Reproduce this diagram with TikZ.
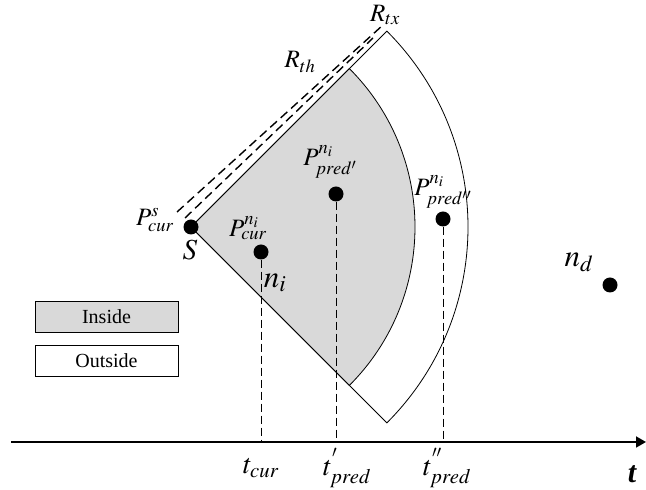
\documentclass[tikz,border=0pt]{standalone}
\usepackage{mathptmx}
\usepackage{fontspec}
\setmainfont{Liberation Serif}
\usetikzlibrary{arrows.meta}

\begin{document}
\begin{tikzpicture}[x=1pt, y=1pt,
    dot/.style={circle, fill=black, inner sep=0pt, minimum size=15pt},
    lbl/.style={font=\fontsize{25}{27}\selectfont, inner sep=0pt},
    tlbl/.style={font=\fontsize{28}{30}\selectfont, inner sep=0pt},
    biglbl/.style={font=\fontsize{31}{33}\selectfont, inner sep=0pt},
    legend/.style={draw, line width=0.9pt, minimum width=143pt, minimum height=31pt,
      inner sep=0pt, font=\fontsize{20}{22}\selectfont},
    guide/.style={dash pattern=on 8pt off 4pt, line width=0.9pt},
    rline/.style={dash pattern=on 9pt off 5pt, line width=1.4pt}]
  \useasboundingbox (0,0) rectangle (646,490);
  \def\rth{224} \def\rtx{277}
  \coordinate (S) at (191,263);
  % setor branco = R_tx, setor cinza = R_th
  \draw[line width=0.8pt] (S) -- ++(45:\rtx) arc[start angle=45, end angle=-45, radius=\rtx] -- cycle;
  \filldraw[fill=gray!30, line width=0.8pt] (S) -- ++(45:\rth) arc[start angle=45, end angle=-45, radius=\rth] -- cycle;
  \coordinate (thA) at (185,272); \coordinate (thB) at (373,452);
  \coordinate (txA) at (177,278); \coordinate (txB) at (383,465);
  \draw[rline] (thA) -- (thB);
  \draw[rline] (txA) -- (txB);
  \node[lbl] (Rth) at (300,428) {$R_{th}$};
  \node[lbl] (Rtx) at (385,475) {$R_{tx}$};
  % eixo do tempo
  \coordinate (t0) at (11,48); \coordinate (t1) at (646,48);
  \draw[line width=1.8pt, -{Triangle[length=10pt, width=11pt]}] (t0) -- (t1);
  \node[dot] (s) at (S) {};
  \node[dot] (cur) at (261,238) {};
  \node[dot] (pr1) at (336,296) {};
  \node[dot] (pr2) at (443,271) {};
  \node[dot] (nd) at (610,205) {};
  \coordinate (fcur) at (261,48); \coordinate (fpr1) at (336,48); \coordinate (fpr2) at (443,48);
  \draw[guide] (cur) -- (fcur);
  \draw[guide] (pr1) -- (fpr1);
  \draw[guide] (pr2) -- (fpr2);
  \node[lbl, anchor=east] (Pscur) at (174,270) {$P^{s}_{cur}$};
  \node[lbl, font=\fontsize{29}{31}\selectfont] (Slbl) at (190,240) {$S$};
  \node[lbl] (Pcur) at (248,262) {$P^{n_i}_{cur}$};
  \node[lbl] (Ppr1) at (330,328) {$P^{n_i}_{pred'}$};
  \node[lbl] (Ppr2) at (443,298) {$P^{n_i}_{pred''}$};
  \node[biglbl] (ni) at (275,207) {$n_i$};
  \node[biglbl] (ndlbl) at (579,228) {$n_d$};
  \node[tlbl] (tcur) at (261,22) {$t_{cur}$};
  \node[tlbl] (tpr1) at (347,22) {$t^{'}_{pred}$};
  \node[tlbl] (tpr2) at (447,22) {$t^{''}_{pred}$};
  \node[font=\fontsize{30}{32}\selectfont\bfseries\itshape, inner sep=0pt] (tlbl) at (632,16) {t};
  \node[legend, fill=gray!30] (inside) at (106.5,173.5) {Inside};
  \node[legend] (outside) at (106.5,129.5) {Outside};
\end{tikzpicture}
\end{document}
